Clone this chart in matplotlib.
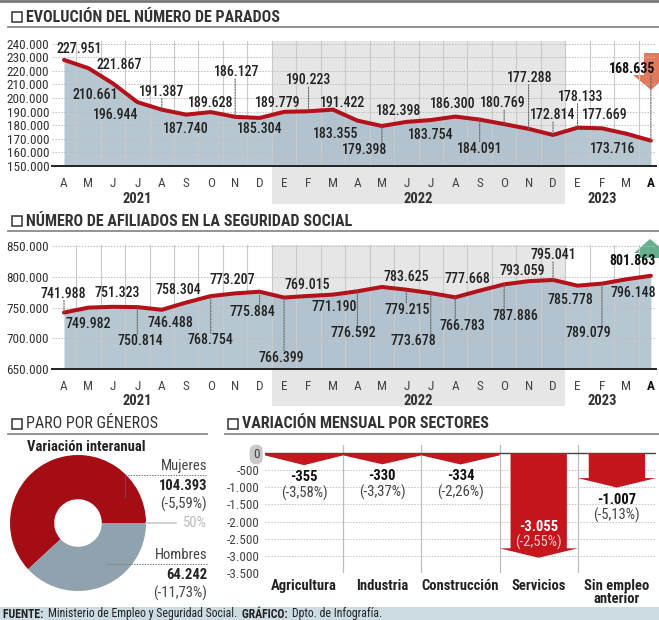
import matplotlib
matplotlib.use("Agg")
import matplotlib.pyplot as plt
from matplotlib.patches import Rectangle, Polygon
import numpy as np

W, H = 659, 620

# ---- data ----
months = ["A", "M", "J", "J", "A", "S", "O", "N", "D", "E", "F", "M",
          "A", "M", "J", "J", "A", "S", "O", "N", "D", "E", "F", "M", "A"]
years = ["2021", "2022", "2023"]

parados = [227951, 221867, 210661, 196944, 191387, 187740, 189628, 186127,
           185304, 189779, 190223, 191422, 183355, 179398, 182398, 183754,
           186300, 184091, 180769, 177288, 172814, 178133, 177669, 173716,
           168635]

afiliados = [741988, 749982, 751323, 750814, 746488, 758304, 768754, 773207,
             775884, 766399, 769015, 771190, 776592, 783625, 779215, 773678,
             766783, 777668, 787886, 793059, 795041, 785778, 789079, 796148,
             801863]

generos = ["Mujeres", "Hombres"]
paro_genero = [104393, 64242]
var_genero = ["-5,59%", "-11,73%"]

sectores = ["Agricultura", "Industria", "Construcción", "Servicios",
            "Sin empleo\nanterior"]
var_sector = [-355, -330, -334, -3055, -1007]
pct_sector = ["-3,58%", "-3,37%", "-2,26%", "-2,55%", "-5,13%"]

# label offsets in pixels (dx, dy down) and whether a dotted leader is drawn
par_off = [(15, -11, 0), (31, -3, 0), (-18, 12, 0), (-22, 13, 0), (0, -18, 1),
           (0, 14, 0), (0, -9, 0), (2, -45, 1), (0, 11, 0), (-6, -9, 0),
           (0, -31, 1), (10, -7, 0), (-22, 13, 0), (-17, 24, 1), (-8, -11, 0),
           (0, 15, 0), (-2, -13, 0), (0, 29, 1), (-1, -21, 1), (1, -51, 1),
           (0, -20, 1), (3, -31, 1), (3, -13, 0), (-14, 15, 0), (-19, -72, 1)]
afi_off = [(-1, -19, 1), (0, 16, 0), (4, -14, 0), (3, 34, 1), (9, 13, 0),
           (-8, -13, 0), (0, 44, 1), (-3, -13, 0), (-7, 20, 1), (-3, 60, 1),
           (-1, -11, 0), (1, 12, 0), (-4, 42, 1), (24, -10, 0), (1, 20, 1),
           (-17, 48, 1), (7, 29, 1), (-12, -12, 0), (11, 32, 1), (-6, -10, 0),
           (0, -25, 1), (-7, 14, 0), (-14, 49, 1), (7, 14, 0), (-18, -15, 0)]

plt.rcParams["font.family"] = ["Roboto Condensed", "Liberation Sans Narrow",
                               "DejaVu Sans"]
plt.rcParams["font.stretch"] = "condensed"

RED = "#b3121a"
FILL = "#a9bdcb"
TXT = "#222222"


def thousands(v):
    return f"{v:,.0f}".replace(",", ".")


fig = plt.figure(figsize=(W / 100, H / 100), dpi=100)


def fax(l, t, w, h, **kw):
    return fig.add_axes([l / W, 1 - (t + h) / H, w / W, h / H], **kw)


def fx(x):
    return x / W


def fy(y):
    return 1 - y / H


def section_title(x, y, text, x0, x1, bold=True):
    fig.patches.append(Rectangle((fx(x), fy(y + 5)), 10 / W, 10 / H,
                                 transform=fig.transFigure, fill=False,
                                 ec="#333", lw=1.1))
    fig.text(fx(x + 14), fy(y), text, fontsize=11.5,
             fontweight="bold" if bold else "normal", color="#333",
             va="center", ha="left")
    fig.lines.append(plt.Line2D([fx(x0), fx(x1)], [fy(y + 10), fy(y + 10)],
                                transform=fig.transFigure, color="#8a8a8a",
                                lw=1.3))


# top border
fig.lines.append(plt.Line2D([0, 1], [fy(1), fy(1)], transform=fig.transFigure,
                            color="#777", lw=2))


def line_chart(top, bottom, vals, ymin, ymax, step, offsets):
    ax = fax(52, top, 604, bottom - top)
    x = np.arange(len(vals))
    ax.set_xlim(-0.49, 24.21)
    ax.set_ylim(ymin, ymax)
    # 2022 band
    ax.add_patch(Rectangle((8.5, -0.3), 12, 1.3, transform=ax.get_xaxis_transform(),
                           color="#e6e6e6", lw=0, clip_on=False, zorder=0))
    ax.fill_between(x, vals, ymin, color=FILL, alpha=0.85, lw=0, zorder=1)
    for k in range(len(vals)):
        ax.axvline(k + 0.5, color="#c9c9c9", lw=0.8, zorder=2)
    for yv in np.arange(ymin + step, ymax, step):
        ax.axhline(yv, color="#bdbdbd", lw=0.7, ls=(0, (1.5, 1.5)), zorder=2)
    ax.plot(x, vals, color=RED, lw=2.9, zorder=4, solid_capstyle="round")
    for k, (v, (dx, dy, lead)) in enumerate(zip(vals, offsets)):
        last = k == len(vals) - 1
        ax.annotate(thousands(v), (k, v), xytext=(dx, -dy),
                    textcoords="offset pixels", ha="center", va="center",
                    fontsize=10, color="#111" if last else TXT,
                    fontweight="bold" if last else "medium", zorder=6)
        if lead:
            L = abs(dy) - 7
            ax.annotate("", (k, v), xytext=(0, L if dy < 0 else -L),
                        textcoords="offset pixels",
                        arrowprops=dict(arrowstyle="-", color="#666", lw=0.8,
                                        ls=(0, (1.2, 1.2)), shrinkA=0, shrinkB=0),
                        zorder=5)
    ax.set_yticks(np.arange(ymin, ymax, step))
    ax.set_yticklabels([thousands(t) for t in np.arange(ymin, ymax, step)],
                       fontsize=9.5, color="#333")
    ax.set_xticks(x)
    ax.set_xticklabels(months, fontsize=9.5, color="#444")
    ax.get_xticklabels()[-1].set_fontweight("bold")
    ax.get_xticklabels()[-1].set_color("#111")
    ax.tick_params(length=0, pad=8)
    ax.tick_params(axis="y", pad=2)
    for s in ["top", "right", "left"]:
        ax.spines[s].set_visible(False)
    ax.spines["bottom"].set_color("#222")
    ax.spines["bottom"].set_linewidth(1.4)
    ax.patch.set_alpha(0)
    for yr, xc in zip(years, [3, 14.5, 22]):
        ax.text(xc, -0.26, yr, transform=ax.get_xaxis_transform(), ha="center",
                va="center", fontsize=10.5, fontweight="bold", color="#333")
    return ax


section_title(12, 17, "EVOLUCIÓN DEL NÚMERO DE PARADOS", 8, 659)
ax1 = line_chart(41, 166, parados, 150000, 241840, 10000, par_off)
# down arrow next to the last value (behind the axes texts)
fig.patches.append(Polygon([(fx(644), fy(53)), (fx(662), fy(53)), (fx(662), fy(75)),
                            (fx(668), fy(75)), (fx(651), fy(90)), (fx(633), fy(75)),
                            (fx(644), fy(75))], closed=True, transform=fig.transFigure,
                           color="#e07a5e", lw=0, zorder=-1))

section_title(12, 221, "NÚMERO DE AFILIADOS EN LA SEGURIDAD SOCIAL", 8, 659)
ax2 = line_chart(245, 369, afiliados, 650000, 852000, 50000, afi_off)
fig.patches.append(Polygon([(fx(650), fy(239)), (fx(667), fy(253)), (fx(660), fy(253)),
                            (fx(660), fy(258)), (fx(640), fy(258)), (fx(640), fy(253)),
                            (fx(634), fy(253))], closed=True, transform=fig.transFigure,
                           color="#66b08f", lw=0, zorder=-1))

# ---- paro por generos ----
section_title(12, 424, "PARO POR GÉNEROS", 8, 207, bold=False)
fig.text(fx(27), fy(447), "Variación interanual", fontsize=10.5, fontweight="bold",
         color="#222", va="center")
axp = fax(10, 455, 136, 136)
axp.pie(paro_genero, colors=["#a50d14", "#8fa2ad"], startangle=0,
        counterclock=True, wedgeprops=dict(width=0.65, lw=0))
axp.set_xlim(-1, 1)
axp.set_ylim(-1, 1)
axp.set_aspect("equal")

fig.lines.append(plt.Line2D([fx(146), fx(176)], [fy(523), fy(523)],
                            transform=fig.transFigure, color="#c8c8c8", lw=1.2))
fig.text(fx(207), fy(523), "50%", ha="right", va="center", fontsize=10.5,
         color="#bbbbbb")
for name, val, pct, yy, x0 in zip(generos, paro_genero, var_genero, [466, 555], [125, 107]):
    fig.text(fx(207), fy(yy), name, ha="right", va="center", fontsize=10.5, color="#444")
    fig.lines.append(plt.Line2D([fx(x0), fx(207)], [fy(yy + 9), fy(yy + 9)],
                                transform=fig.transFigure, color="#777", lw=0.8,
                                ls=(0, (1.2, 1.2))))
    fig.text(fx(207), fy(yy + 20), thousands(val), ha="right", va="center",
             fontsize=10.5, fontweight="bold", color="#222")
    fig.text(fx(207), fy(yy + 38), f"({pct})", ha="right", va="center",
             fontsize=10.5, color="#444")
fig.lines.append(plt.Line2D([fx(125), fx(125)], [fy(475), fy(497)],
                            transform=fig.transFigure, color="#555", lw=0.8))

# ---- variacion mensual por sectores ----
section_title(228, 424, "VARIACIÓN MENSUAL POR SECTORES", 225, 659)
axs = fax(265, 445, 391, 128)
axs.set_xlim(-0.5, 4.5)
axs.set_ylim(-3500, 233)
for yv in np.arange(-3500, 0, 500):
    axs.axhline(yv, color="#c4c4c4", lw=0.7, ls=(0, (1.5, 1.5)), zorder=0)
for k in range(4):
    axs.axvline(k + 0.5, color="#bdbdbd", lw=0.9, zorder=0)
axs.axhline(0, color="#444", lw=1.0, zorder=1)
head_h = 275
for k, (v, pct) in enumerate(zip(var_sector, pct_sector)):
    if -v < 1.5 * head_h:
        pts = [(k - 0.5, 0), (k + 0.5, 0), (k + 0.5, -70), (k, v), (k - 0.5, -70)]
    else:
        pts = [(k - 0.36, 0), (k + 0.36, 0), (k + 0.36, v + head_h),
               (k + 0.5, v + head_h), (k, v), (k - 0.5, v + head_h),
               (k - 0.36, v + head_h)]
    axs.add_patch(Polygon(pts, closed=True, color="#c4161c", lw=0, zorder=2))
    if -v > 2000:
        y1, y2, col1, col2 = v + 895, v + 455, "white", "#f1d0d0"
    else:
        y1, y2, col1, col2 = v - 350, v - 810, "#111", "#444"
    axs.text(k, y1, thousands(v), ha="center", va="center", fontsize=10.5,
             fontweight="bold", color=col1, zorder=3)
    axs.text(k, y2, f"({pct})", ha="center", va="center", fontsize=10.5,
             color=col2, zorder=3)
axs.set_yticks(np.arange(-3500, 1, 500))
axs.set_yticklabels([thousands(t) for t in np.arange(-3500, 1, 500)],
                    fontsize=9.5, color="#444")
axs.set_xticks(range(5))
axs.set_xticklabels(sectores, fontsize=10.5, color="#222", linespacing=0.95,
                    va="top", fontweight="semibold")
axs.tick_params(length=0, pad=4)
for s in axs.spines.values():
    s.set_visible(False)
zero_lbl = axs.get_yticklabels()[-1]
zero_lbl.set_bbox(dict(boxstyle="round,pad=0.25,rounding_size=0.5", fc="#c9c9c9",
                       ec="none"))

# ---- footer ----
fig.patches.append(Rectangle((0, 0), 1, 13 / H, transform=fig.transFigure,
                             color="#cddbe3", lw=0))
renderer = fig.canvas.get_renderer()
xpos = fx(3)
for txt, bold in [("FUENTE: ", True), ("Ministerio de Empleo y Seguridad Social. ", False),
                  ("GRÁFICO: ", True), ("Dpto. de Infografía.", False)]:
    t = fig.text(xpos, fy(614), txt, fontsize=8.5, color="#222", va="center",
                 fontweight="bold" if bold else "normal")
    xpos += t.get_window_extent(renderer).width / W + (2 / W)

fig.savefig("out.png", dpi=100)
